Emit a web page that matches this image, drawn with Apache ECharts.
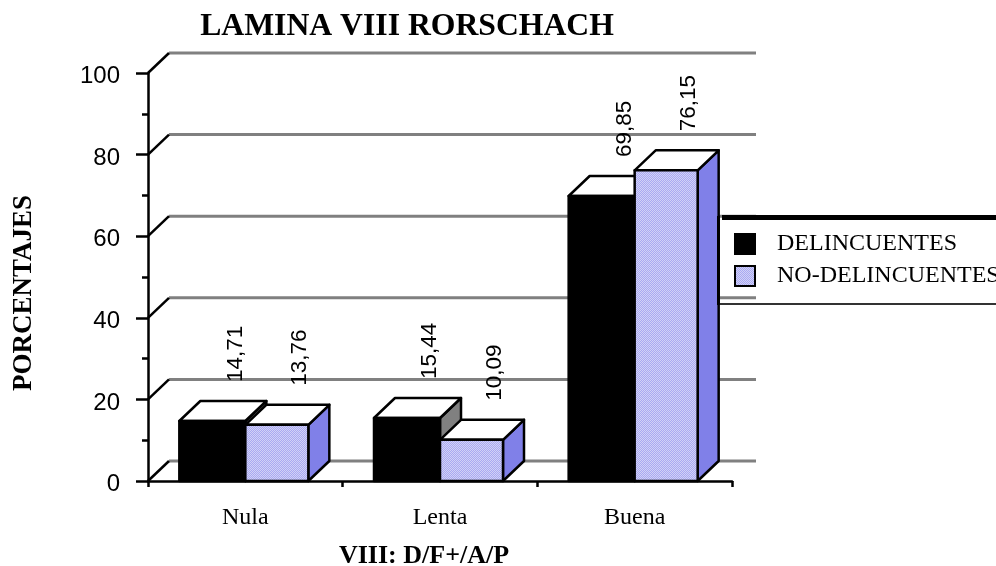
<!DOCTYPE html>
<html>
<head>
<meta charset="utf-8">
<script src="https://cdn.jsdelivr.net/npm/echarts@6/dist/echarts.min.js"></script>
<style>
  html, body { margin: 0; padding: 0; background: #fff; }
  #main { width: 996px; height: 566px; }
</style>
</head>
<body>
<div id="main"></div>
<script>
var categories = ['Nula', 'Lenta', 'Buena'];
var delincuentes = [14.71, 15.44, 69.85];
var noDelincuentes = [13.76, 10.09, 76.15];
var yTicks = [0, 20, 40, 60, 80, 100];

// depth of the fake 3d, in pixels
var DX = 21, DY = 20;
var SERIF = '"Liberation Serif", serif';
var SANS = '"Liberation Sans", sans-serif';

// dithered fill like the old office charts
function dither(a, b) {
  var c = document.createElement('canvas');
  c.width = 2;
  c.height = 2;
  var ctx = c.getContext('2d');
  ctx.fillStyle = a;
  ctx.fillRect(0, 0, 2, 2);
  ctx.fillStyle = b;
  ctx.fillRect(0, 0, 1, 1);
  ctx.fillRect(1, 1, 1, 1);
  return { image: c, repeat: 'repeat' };
}
var lavender = dither('#a9a9f2', '#d2d2f6');
var sideBlue = '#8080e8';
var sideGray = '#808080';

function barRenderer(offset, barW, front, side) {
  return function (params, api) {
    var base = api.coord([api.value(0), 0]);
    var top = api.coord([api.value(0), api.value(1)]);
    var x0 = base[0] + offset;
    var x1 = x0 + barW;
    var y0 = base[1];
    var y1 = top[1];
    var line = { stroke: '#000', lineWidth: 2.5, lineJoin: 'round' };
    var label = api.value(1).toFixed(2).replace('.', ',');
    return {
      type: 'group',
      children: [
        { type: 'polygon', shape: { points: [[x1, y0], [x1 + DX, y0 - DY], [x1 + DX, y1 - DY], [x1, y1]] },
          style: Object.assign({ fill: side }, line) },
        { type: 'polygon', shape: { points: [[x0, y1], [x0 + DX, y1 - DY], [x1 + DX, y1 - DY], [x1, y1]] },
          style: Object.assign({ fill: '#fff' }, line) },
        { type: 'rect', shape: { x: x0, y: y1, width: barW, height: y0 - y1 },
          style: Object.assign({ fill: front }, line) },
        { type: 'text', x: (x0 + x1) / 2 + 23, y: y1 - 39, rotation: Math.PI / 2,
          style: { text: label, fill: '#000', font: '22.5px ' + SANS, align: 'left', verticalAlign: 'middle' } }
      ]
    };
  };
}

var chart = echarts.init(document.getElementById('main'), null, { renderer: 'canvas' });

chart.setOption({
  animation: false,
  backgroundColor: '#fff',
  title: {
    text: 'LAMINA VIII RORSCHACH',
    left: 402,
    top: 6,
    textAlign: 'center',
    textStyle: { fontFamily: SERIF, fontSize: 31.7, fontWeight: 'bold', color: '#000' }
  },
  grid: { left: 148, top: 73, width: 584, height: 408, outerBoundsMode: 'none' },
  legend: {
    data: ['DELINCUENTES', 'NO-DELINCUENTES'],
    orient: 'vertical',
    left: 734,
    top: 232,
    padding: 0,
    itemGap: 8,
    itemWidth: 20,
    itemHeight: 20,
    icon: 'rect',
    selectedMode: false,
    textStyle: { fontFamily: SERIF, fontSize: 24, color: '#000', padding: [0, 0, 0, 17] },
    itemStyle: { borderColor: '#000', borderWidth: 2 }
  },
  xAxis: {
    type: 'category',
    data: categories,
    name: 'VIII: D/F+/A/P',
    nameLocation: 'middle',
    nameGap: 62,
    nameTextStyle: { fontFamily: SERIF, fontSize: 26, fontWeight: 'bold', color: '#000', padding: [0, 32, 0, 0] },
    axisLine: { lineStyle: { color: '#000', width: 2.5 } },
    axisTick: { show: true, length: 6, lineStyle: { color: '#000', width: 2.5 } },
    axisLabel: { fontFamily: SERIF, fontSize: 24, color: '#000', margin: 25 }
  },
  yAxis: {
    type: 'value',
    min: 0,
    max: 100,
    interval: 20,
    name: 'PORCENTAJES',
    nameLocation: 'middle',
    nameGap: 110,
    nameRotate: 90,
    nameTextStyle: { fontFamily: SERIF, fontSize: 27, fontWeight: 'bold', color: '#000', padding: [0, 32, 0, 0] },
    axisLine: { show: true, lineStyle: { color: '#000', width: 2.5 } },
    axisTick: { show: true, length: 12, lineStyle: { color: '#000', width: 2.5 } },
    minorTick: { show: true, splitNumber: 2, length: 6, lineStyle: { color: '#000', width: 2.5 } },
    splitLine: { show: false },
    axisLabel: { fontFamily: SANS, fontSize: 24, color: '#000', margin: 28, verticalAlign: 'top', lineHeight: 7 }
  },
  series: [
    {
      // back wall gridlines and the diagonals off the y axis
      name: 'wall',
      type: 'custom',
      silent: true,
      clip: false,
      data: yTicks.map(function (v) { return [0, v]; }),
      encode: { x: 0, y: 1 },
      renderItem: function (params, api) {
        var y = api.coord([0, api.value(1)])[1];
        var rect = params.coordSys;
        return {
          type: 'group',
          children: [
            { type: 'line', shape: { x1: rect.x + DX, y1: y - DY, x2: rect.x + rect.width + 24, y2: y - DY },
              style: { stroke: '#808080', lineWidth: 3 } },
            { type: 'line', shape: { x1: rect.x, y1: y, x2: rect.x + DX, y2: y - DY },
              style: { stroke: '#000', lineWidth: 2.5 } }
          ]
        };
      }
    },
    {
      name: 'DELINCUENTES',
      type: 'custom',
      silent: true,
      clip: false,
      itemStyle: { color: '#000' },
      data: delincuentes.map(function (v, i) { return [i, v]; }),
      encode: { x: 0, y: 1 },
      renderItem: barRenderer(-66, 66, '#000', sideGray)
    },
    {
      name: 'NO-DELINCUENTES',
      type: 'custom',
      silent: true,
      clip: false,
      itemStyle: { color: lavender },
      data: noDelincuentes.map(function (v, i) { return [i, v]; }),
      encode: { x: 0, y: 1 },
      renderItem: barRenderer(0, 63, lavender, sideBlue)
    }
  ],
  // frame of the legend box, runs off the right edge of the page
  graphic: [
    { type: 'rect', z: 100, shape: { x: 722, y: 215, width: 280, height: 5 }, style: { fill: '#000' } },
    { type: 'rect', z: 100, shape: { x: 717, y: 216, width: 3, height: 89 }, style: { fill: '#000' } },
    { type: 'rect', z: 100, shape: { x: 720, y: 303, width: 280, height: 2 }, style: { fill: '#333' } }
  ]
});
</script>
</body>
</html>
